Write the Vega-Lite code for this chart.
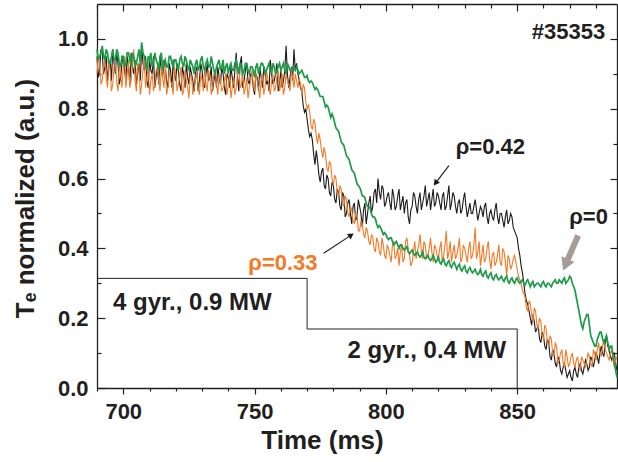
{
"$schema": "https://vega.github.io/schema/vega-lite/v6.json",
"width": 520, "height": 384,
"autosize": "none",
"padding": {"left": 97, "top": 4, "right": 1, "bottom": 74},
"background": "white",
"config": {"view": {"stroke": null}, "font": "Liberation Sans"},
"datasets": {
"tr": [
{"t":690,"k":0.95,"o":0.90,"g":0.97},{"t":691,"k":0.91,"o":0.93,"g":0.95},{"t":692,"k":0.96,"o":0.88,"g":0.98},{"t":693,"k":0.92,"o":0.94,"g":0.94},{"t":694,"k":0.88,"o":0.86,"g":0.96},
{"t":695,"k":0.94,"o":0.91,"g":0.93},{"t":696,"k":0.97,"o":0.87,"g":0.97},{"t":697,"k":0.90,"o":0.93,"g":0.94},{"t":698,"k":0.93,"o":0.85,"g":0.96},{"t":699,"k":0.89,"o":0.90,"g":0.92},
{"t":700,"k":0.95,"o":0.92,"g":0.95},{"t":701,"k":0.88,"o":0.86,"g":0.93},{"t":702,"k":0.92,"o":0.94,"g":0.96},{"t":703,"k":0.96,"o":0.88,"g":0.92},{"t":704,"k":0.90,"o":0.97,"g":0.95},
{"t":705,"k":0.87,"o":0.85,"g":0.93},{"t":706,"k":0.93,"o":0.92,"g":0.97},{"t":707,"k":0.98,"o":0.87,"g":0.99},{"t":708,"k":0.91,"o":0.95,"g":0.95},{"t":709,"k":0.88,"o":0.89,"g":0.91},
{"t":710,"k":0.94,"o":0.84,"g":0.94},{"t":711,"k":0.90,"o":0.90,"g":0.92},{"t":712,"k":0.86,"o":0.87,"g":0.96},{"t":713,"k":0.92,"o":0.92,"g":0.93},{"t":714,"k":0.95,"o":0.85,"g":0.95},
{"t":715,"k":0.89,"o":0.89,"g":0.91},{"t":716,"k":0.92,"o":0.93,"g":0.94},{"t":717,"k":0.86,"o":0.86,"g":0.92},{"t":718,"k":0.91,"o":0.88,"g":0.95},{"t":719,"k":0.94,"o":0.84,"g":0.92},
{"t":720,"k":0.88,"o":0.90,"g":0.94},{"t":721,"k":0.91,"o":0.87,"g":0.91},{"t":722,"k":0.85,"o":0.92,"g":0.95},{"t":723,"k":0.90,"o":0.85,"g":0.92},{"t":724,"k":0.93,"o":0.88,"g":0.94},
{"t":725,"k":0.87,"o":0.83,"g":0.91},{"t":726,"k":0.90,"o":0.89,"g":0.93},{"t":727,"k":0.85,"o":0.86,"g":0.90},{"t":728,"k":0.92,"o":0.91,"g":0.94},{"t":729,"k":0.88,"o":0.84,"g":0.92},
{"t":730,"k":0.91,"o":0.88,"g":0.95},{"t":731,"k":0.86,"o":0.92,"g":0.91},{"t":732,"k":0.93,"o":0.85,"g":0.94},{"t":733,"k":0.89,"o":0.89,"g":0.92},{"t":734,"k":0.85,"o":0.86,"g":0.93},
{"t":735,"k":0.90,"o":0.91,"g":0.90},{"t":736,"k":0.92,"o":0.84,"g":0.93},{"t":737,"k":0.87,"o":0.88,"g":0.91},{"t":738,"k":0.90,"o":0.86,"g":0.94},{"t":739,"k":0.84,"o":0.90,"g":0.92},
{"t":740,"k":0.89,"o":0.87,"g":0.90},{"t":741,"k":0.92,"o":0.83,"g":0.93},{"t":742,"k":0.86,"o":0.89,"g":0.91},{"t":743,"k":0.96,"o":0.86,"g":0.94},{"t":744,"k":0.85,"o":0.92,"g":0.90},
{"t":745,"k":0.95,"o":0.87,"g":0.92},{"t":746,"k":0.88,"o":0.84,"g":0.91},{"t":747,"k":0.93,"o":0.89,"g":0.93},{"t":748,"k":0.87,"o":0.86,"g":0.90},{"t":749,"k":0.90,"o":0.91,"g":0.92},
{"t":750,"k":0.84,"o":0.85,"g":0.89},{"t":751,"k":0.89,"o":0.88,"g":0.93},{"t":752,"k":0.92,"o":0.83,"g":0.91},{"t":753,"k":0.86,"o":0.90,"g":0.93},{"t":754,"k":0.91,"o":0.86,"g":0.90},
{"t":755,"k":0.88,"o":0.89,"g":0.92},{"t":756,"k":0.94,"o":0.84,"g":0.91},{"t":757,"k":0.87,"o":0.90,"g":0.93},{"t":758,"k":0.90,"o":0.86,"g":0.90},{"t":759,"k":0.85,"o":0.91,"g":0.92},
{"t":760,"k":0.91,"o":0.87,"g":0.91},{"t":761,"k":0.88,"o":0.84,"g":0.93},{"t":762,"k":0.98,"o":0.90,"g":0.90},{"t":763,"k":0.86,"o":0.87,"g":0.92},{"t":764,"k":0.92,"o":0.91,"g":0.91},
{"t":765,"k":0.97,"o":0.86,"g":0.92},{"t":766,"k":0.93,"o":0.88,"g":0.92},{"t":767,"k":0.88,"o":0.89,"g":0.90},{"t":768,"k":0.85,"o":0.84,"g":0.91},{"t":769,"k":0.79,"o":0.86,"g":0.89},
{"t":770,"k":0.77,"o":0.80,"g":0.895},{"t":771,"k":0.72,"o":0.79,"g":0.875},{"t":772,"k":0.71,"o":0.74,"g":0.875},{"t":773,"k":0.64,"o":0.76,"g":0.855},{"t":774,"k":0.65,"o":0.70,"g":0.855},
{"t":775,"k":0.59,"o":0.71,"g":0.835},{"t":776,"k":0.63,"o":0.66,"g":0.835},{"t":777,"k":0.57,"o":0.67,"g":0.805},{"t":778,"k":0.60,"o":0.62,"g":0.805},{"t":779,"k":0.55,"o":0.64,"g":0.775},
{"t":780,"k":0.58,"o":0.58,"g":0.775},{"t":781,"k":0.53,"o":0.60,"g":0.745},{"t":782,"k":0.56,"o":0.55,"g":0.735},{"t":783,"k":0.51,"o":0.57,"g":0.705},{"t":784,"k":0.55,"o":0.52,"g":0.695},
{"t":785,"k":0.50,"o":0.54,"g":0.665},{"t":786,"k":0.54,"o":0.49,"g":0.655},{"t":787,"k":0.47,"o":0.51,"g":0.625},{"t":788,"k":0.53,"o":0.47,"g":0.615},{"t":789,"k":0.49,"o":0.50,"g":0.585},
{"t":790,"k":0.52,"o":0.45,"g":0.575},{"t":791,"k":0.46,"o":0.47,"g":0.55},{"t":792,"k":0.53,"o":0.43,"g":0.545},{"t":793,"k":0.50,"o":0.45,"g":0.52},{"t":794,"k":0.55,"o":0.41,"g":0.515},
{"t":795,"k":0.52,"o":0.43,"g":0.49},{"t":796,"k":0.57,"o":0.39,"g":0.485},{"t":797,"k":0.60,"o":0.42,"g":0.46},{"t":798,"k":0.54,"o":0.38,"g":0.46},{"t":799,"k":0.57,"o":0.41,"g":0.44},
{"t":800,"k":0.53,"o":0.37,"g":0.44},{"t":801,"k":0.56,"o":0.40,"g":0.425},{"t":802,"k":0.51,"o":0.36,"g":0.43},{"t":803,"k":0.55,"o":0.42,"g":0.41},{"t":804,"k":0.52,"o":0.38,"g":0.42},
{"t":805,"k":0.57,"o":0.35,"g":0.40},{"t":806,"k":0.53,"o":0.41,"g":0.41},{"t":807,"k":0.50,"o":0.37,"g":0.395},{"t":808,"k":0.54,"o":0.43,"g":0.405},{"t":809,"k":0.47,"o":0.38,"g":0.385},
{"t":810,"k":0.52,"o":0.36,"g":0.395},{"t":811,"k":0.55,"o":0.42,"g":0.38},{"t":812,"k":0.50,"o":0.39,"g":0.39},{"t":813,"k":0.56,"o":0.44,"g":0.375},{"t":814,"k":0.53,"o":0.37,"g":0.39},
{"t":815,"k":0.58,"o":0.41,"g":0.37},{"t":816,"k":0.54,"o":0.38,"g":0.38},{"t":817,"k":0.51,"o":0.43,"g":0.365},{"t":818,"k":0.57,"o":0.36,"g":0.38},{"t":819,"k":0.53,"o":0.40,"g":0.36},
{"t":820,"k":0.55,"o":0.37,"g":0.375},{"t":821,"k":0.51,"o":0.42,"g":0.355},{"t":822,"k":0.56,"o":0.38,"g":0.37},{"t":823,"k":0.52,"o":0.45,"g":0.35},{"t":824,"k":0.58,"o":0.39,"g":0.365},
{"t":825,"k":0.53,"o":0.36,"g":0.345},{"t":826,"k":0.55,"o":0.41,"g":0.36},{"t":827,"k":0.50,"o":0.38,"g":0.34},{"t":828,"k":0.54,"o":0.43,"g":0.355},{"t":829,"k":0.51,"o":0.37,"g":0.335},
{"t":830,"k":0.56,"o":0.40,"g":0.35},{"t":831,"k":0.49,"o":0.36,"g":0.33},{"t":832,"k":0.53,"o":0.42,"g":0.345},{"t":833,"k":0.50,"o":0.38,"g":0.33},{"t":834,"k":0.54,"o":0.46,"g":0.34},
{"t":835,"k":0.48,"o":0.39,"g":0.325},{"t":836,"k":0.52,"o":0.35,"g":0.34},{"t":837,"k":0.49,"o":0.41,"g":0.32},{"t":838,"k":0.53,"o":0.37,"g":0.335},{"t":839,"k":0.47,"o":0.42,"g":0.315},
{"t":840,"k":0.51,"o":0.34,"g":0.33},{"t":841,"k":0.48,"o":0.39,"g":0.31},{"t":842,"k":0.53,"o":0.36,"g":0.325},{"t":843,"k":0.47,"o":0.41,"g":0.31},{"t":844,"k":0.50,"o":0.35,"g":0.32},
{"t":845,"k":0.46,"o":0.39,"g":0.305},{"t":846,"k":0.51,"o":0.32,"g":0.32},{"t":847,"k":0.48,"o":0.37,"g":0.30},{"t":848,"k":0.49,"o":0.35,"g":0.315},{"t":849,"k":0.45,"o":0.38,"g":0.30},
{"t":850,"k":0.43,"o":0.34,"g":0.315},{"t":851,"k":0.38,"o":0.31,"g":0.30},{"t":852,"k":0.33,"o":0.28,"g":0.31},{"t":853,"k":0.27,"o":0.26,"g":0.295},{"t":854,"k":0.24,"o":0.22,"g":0.31},
{"t":855,"k":0.20,"o":0.24,"g":0.29},{"t":856,"k":0.21,"o":0.19,"g":0.305},{"t":857,"k":0.16,"o":0.22,"g":0.295},{"t":858,"k":0.18,"o":0.17,"g":0.30},{"t":859,"k":0.13,"o":0.19,"g":0.29},
{"t":860,"k":0.15,"o":0.14,"g":0.305},{"t":861,"k":0.11,"o":0.17,"g":0.29},{"t":862,"k":0.13,"o":0.12,"g":0.30},{"t":863,"k":0.08,"o":0.14,"g":0.29},{"t":864,"k":0.10,"o":0.09,"g":0.305},
{"t":865,"k":0.06,"o":0.12,"g":0.30},{"t":866,"k":0.08,"o":0.08,"g":0.31},{"t":867,"k":0.04,"o":0.11,"g":0.30},{"t":868,"k":0.07,"o":0.06,"g":0.315},{"t":869,"k":0.03,"o":0.09,"g":0.305},
{"t":870,"k":0.05,"o":0.07,"g":0.32},{"t":871,"k":0.02,"o":0.10,"g":0.30},{"t":872,"k":0.06,"o":0.06,"g":0.28},{"t":873,"k":0.03,"o":0.09,"g":0.24},{"t":874,"k":0.07,"o":0.05,"g":0.20},
{"t":875,"k":0.04,"o":0.08,"g":0.17},{"t":876,"k":0.08,"o":0.06,"g":0.20},{"t":877,"k":0.05,"o":0.10,"g":0.21},{"t":878,"k":0.09,"o":0.07,"g":0.15},{"t":879,"k":0.06,"o":0.11,"g":0.13},
{"t":880,"k":0.10,"o":0.08,"g":0.12},{"t":881,"k":0.07,"o":0.13,"g":0.15},{"t":882,"k":0.12,"o":0.09,"g":0.16},{"t":883,"k":0.09,"o":0.14,"g":0.13},{"t":884,"k":0.15,"o":0.10,"g":0.15},
{"t":885,"k":0.11,"o":0.08,"g":0.11},{"t":886,"k":0.08,"o":0.11,"g":0.12},{"t":887,"k":0.10,"o":0.06,"g":0.07},{"t":888,"k":0.05,"o":0.09,"g":0.03},
{"t":690.5,"k":0.89,"o":0.95,"g":0.94},{"t":691.5,"k":0.97,"o":0.87,"g":0.96},{"t":692.5,"k":0.90,"o":0.92,"g":0.95},{"t":693.5,"k":0.95,"o":0.89,"g":0.97},{"t":694.5,"k":0.92,"o":0.94,"g":0.93},
{"t":695.5,"k":0.88,"o":0.85,"g":0.95},{"t":696.5,"k":0.93,"o":0.92,"g":0.94},{"t":697.5,"k":0.96,"o":0.88,"g":0.97},{"t":698.5,"k":0.87,"o":0.93,"g":0.93},{"t":699.5,"k":0.93,"o":0.86,"g":0.95},
{"t":700.5,"k":0.91,"o":0.95,"g":0.92},{"t":701.5,"k":0.95,"o":0.90,"g":0.96},{"t":702.5,"k":0.87,"o":0.86,"g":0.94},{"t":703.5,"k":0.92,"o":0.93,"g":0.96},{"t":704.5,"k":0.94,"o":0.88,"g":0.92},
{"t":705.5,"k":0.90,"o":0.93,"g":0.95},{"t":706.5,"k":0.88,"o":0.84,"g":0.93},{"t":707.5,"k":0.93,"o":0.91,"g":0.96},{"t":708.5,"k":0.95,"o":0.86,"g":0.93},{"t":709.5,"k":0.86,"o":0.92,"g":0.95},
{"t":710.5,"k":0.91,"o":0.88,"g":0.96},{"t":711.5,"k":0.95,"o":0.85,"g":0.93},{"t":712.5,"k":0.89,"o":0.91,"g":0.94},{"t":713.5,"k":0.87,"o":0.88,"g":0.91},{"t":714.5,"k":0.91,"o":0.92,"g":0.96},
{"t":715.5,"k":0.94,"o":0.86,"g":0.93},{"t":716.5,"k":0.88,"o":0.84,"g":0.92},{"t":717.5,"k":0.93,"o":0.91,"g":0.95},{"t":718.5,"k":0.86,"o":0.87,"g":0.93},{"t":719.5,"k":0.90,"o":0.92,"g":0.94},
{"t":720.5,"k":0.93,"o":0.85,"g":0.92},{"t":721.5,"k":0.87,"o":0.89,"g":0.94},{"t":722.5,"k":0.92,"o":0.84,"g":0.93},{"t":723.5,"k":0.86,"o":0.91,"g":0.95},{"t":724.5,"k":0.89,"o":0.86,"g":0.92},
{"t":725.5,"k":0.92,"o":0.90,"g":0.94},{"t":726.5,"k":0.88,"o":0.84,"g":0.92},{"t":727.5,"k":0.90,"o":0.88,"g":0.93},{"t":728.5,"k":0.85,"o":0.86,"g":0.91},{"t":729.5,"k":0.93,"o":0.90,"g":0.94},
{"t":730.5,"k":0.87,"o":0.85,"g":0.92},{"t":731.5,"k":0.90,"o":0.87,"g":0.93},{"t":732.5,"k":0.88,"o":0.91,"g":0.92},{"t":733.5,"k":0.92,"o":0.84,"g":0.95},{"t":734.5,"k":0.88,"o":0.90,"g":0.91},
{"t":735.5,"k":0.86,"o":0.87,"g":0.92},{"t":736.5,"k":0.89,"o":0.90,"g":0.94},{"t":737.5,"k":0.92,"o":0.85,"g":0.92},{"t":738.5,"k":0.86,"o":0.88,"g":0.90},{"t":739.5,"k":0.90,"o":0.84,"g":0.93},
{"t":740.5,"k":0.86,"o":0.90,"g":0.92},{"t":741.5,"k":0.89,"o":0.86,"g":0.91},{"t":742.5,"k":0.91,"o":0.84,"g":0.93},{"t":743.5,"k":0.89,"o":0.90,"g":0.92},{"t":744.5,"k":0.93,"o":0.86,"g":0.93},
{"t":745.5,"k":0.86,"o":0.90,"g":0.90},{"t":746.5,"k":0.91,"o":0.86,"g":0.93},{"t":747.5,"k":0.88,"o":0.83,"g":0.91},{"t":748.5,"k":0.90,"o":0.88,"g":0.92},{"t":749.5,"k":0.86,"o":0.87,"g":0.91},
{"t":750.5,"k":0.90,"o":0.90,"g":0.92},{"t":751.5,"k":0.85,"o":0.86,"g":0.90},{"t":752.5,"k":0.89,"o":0.88,"g":0.93},{"t":753.5,"k":0.92,"o":0.84,"g":0.92},{"t":754.5,"k":0.87,"o":0.91,"g":0.91},
{"t":755.5,"k":0.85,"o":0.86,"g":0.93},{"t":756.5,"k":0.90,"o":0.88,"g":0.90},{"t":757.5,"k":0.88,"o":0.85,"g":0.92},{"t":758.5,"k":0.93,"o":0.89,"g":0.91},{"t":759.5,"k":0.87,"o":0.85,"g":0.93},
{"t":760.5,"k":0.86,"o":0.90,"g":0.92},{"t":761.5,"k":0.91,"o":0.86,"g":0.91},{"t":762.5,"k":0.90,"o":0.88,"g":0.93},{"t":763.5,"k":0.89,"o":0.85,"g":0.91},{"t":764.5,"k":0.88,"o":0.89,"g":0.92},
{"t":765.5,"k":0.91,"o":0.90,"g":0.91},{"t":766.5,"k":0.90,"o":0.86,"g":0.91},{"t":767.5,"k":0.86,"o":0.87,"g":0.905},{"t":768.5,"k":0.81,"o":0.87,"g":0.90},{"t":769.5,"k":0.80,"o":0.82,"g":0.89},
{"t":770.5,"k":0.74,"o":0.81,"g":0.88},{"t":771.5,"k":0.73,"o":0.75,"g":0.88},{"t":772.5,"k":0.67,"o":0.77,"g":0.865},{"t":773.5,"k":0.68,"o":0.72,"g":0.86},{"t":774.5,"k":0.61,"o":0.73,"g":0.845},
{"t":775.5,"k":0.62,"o":0.68,"g":0.835},{"t":776.5,"k":0.58,"o":0.69,"g":0.82},{"t":777.5,"k":0.61,"o":0.63,"g":0.81},{"t":778.5,"k":0.56,"o":0.65,"g":0.79},{"t":779.5,"k":0.59,"o":0.60,"g":0.785},
{"t":780.5,"k":0.54,"o":0.61,"g":0.76},{"t":781.5,"k":0.57,"o":0.56,"g":0.74},{"t":782.5,"k":0.52,"o":0.58,"g":0.72},{"t":783.5,"k":0.56,"o":0.53,"g":0.70},{"t":784.5,"k":0.49,"o":0.55,"g":0.68},
{"t":785.5,"k":0.53,"o":0.50,"g":0.66},{"t":786.5,"k":0.50,"o":0.52,"g":0.64},{"t":787.5,"k":0.52,"o":0.48,"g":0.62},{"t":788.5,"k":0.48,"o":0.50,"g":0.60},{"t":789.5,"k":0.54,"o":0.45,"g":0.58},
{"t":790.5,"k":0.50,"o":0.48,"g":0.565},{"t":791.5,"k":0.51,"o":0.44,"g":0.55},{"t":792.5,"k":0.47,"o":0.46,"g":0.53},{"t":793.5,"k":0.53,"o":0.42,"g":0.52},{"t":794.5,"k":0.50,"o":0.44,"g":0.50},
{"t":795.5,"k":0.56,"o":0.40,"g":0.49},{"t":796.5,"k":0.53,"o":0.43,"g":0.47},{"t":797.5,"k":0.56,"o":0.39,"g":0.465},{"t":798.5,"k":0.58,"o":0.43,"g":0.45},{"t":799.5,"k":0.52,"o":0.38,"g":0.445},
{"t":800.5,"k":0.55,"o":0.41,"g":0.43},{"t":801.5,"k":0.53,"o":0.38,"g":0.43},{"t":802.5,"k":0.57,"o":0.41,"g":0.42},{"t":803.5,"k":0.51,"o":0.37,"g":0.415},{"t":804.5,"k":0.55,"o":0.40,"g":0.41},
{"t":805.5,"k":0.51,"o":0.39,"g":0.41},{"t":806.5,"k":0.55,"o":0.36,"g":0.40},{"t":807.5,"k":0.53,"o":0.42,"g":0.40},{"t":808.5,"k":0.49,"o":0.40,"g":0.39},{"t":809.5,"k":0.51,"o":0.35,"g":0.39},
{"t":810.5,"k":0.56,"o":0.39,"g":0.385},{"t":811.5,"k":0.52,"o":0.37,"g":0.385},{"t":812.5,"k":0.54,"o":0.41,"g":0.38},{"t":813.5,"k":0.51,"o":0.39,"g":0.38},{"t":814.5,"k":0.55,"o":0.42,"g":0.375},
{"t":815.5,"k":0.52,"o":0.37,"g":0.375},{"t":816.5,"k":0.56,"o":0.40,"g":0.37},{"t":817.5,"k":0.54,"o":0.39,"g":0.37},{"t":818.5,"k":0.52,"o":0.41,"g":0.37},{"t":819.5,"k":0.56,"o":0.38,"g":0.365},
{"t":820.5,"k":0.53,"o":0.40,"g":0.36},{"t":821.5,"k":0.55,"o":0.36,"g":0.365},{"t":822.5,"k":0.51,"o":0.41,"g":0.355},{"t":823.5,"k":0.55,"o":0.37,"g":0.36},{"t":824.5,"k":0.51,"o":0.42,"g":0.35},
{"t":825.5,"k":0.56,"o":0.39,"g":0.355},{"t":826.5,"k":0.52,"o":0.37,"g":0.35},{"t":827.5,"k":0.53,"o":0.40,"g":0.35},{"t":828.5,"k":0.50,"o":0.36,"g":0.34},{"t":829.5,"k":0.54,"o":0.41,"g":0.345},
{"t":830.5,"k":0.52,"o":0.38,"g":0.335},{"t":831.5,"k":0.51,"o":0.40,"g":0.34},{"t":832.5,"k":0.50,"o":0.37,"g":0.335},{"t":833.5,"k":0.52,"o":0.41,"g":0.335},{"t":834.5,"k":0.51,"o":0.37,"g":0.33},
{"t":835.5,"k":0.50,"o":0.42,"g":0.33},{"t":836.5,"k":0.51,"o":0.38,"g":0.325},{"t":837.5,"k":0.52,"o":0.36,"g":0.33},{"t":838.5,"k":0.49,"o":0.40,"g":0.32},{"t":839.5,"k":0.50,"o":0.37,"g":0.325},
{"t":840.5,"k":0.49,"o":0.38,"g":0.315},{"t":841.5,"k":0.51,"o":0.35,"g":0.32},{"t":842.5,"k":0.49,"o":0.38,"g":0.315},{"t":843.5,"k":0.50,"o":0.36,"g":0.315},{"t":844.5,"k":0.48,"o":0.40,"g":0.31},
{"t":845.5,"k":0.49,"o":0.36,"g":0.315},{"t":846.5,"k":0.47,"o":0.38,"g":0.305},{"t":847.5,"k":0.50,"o":0.34,"g":0.31},{"t":848.5,"k":0.46,"o":0.37,"g":0.305},{"t":849.5,"k":0.44,"o":0.36,"g":0.31},
{"t":850.5,"k":0.40,"o":0.32,"g":0.305},{"t":851.5,"k":0.35,"o":0.30,"g":0.305},{"t":852.5,"k":0.30,"o":0.27,"g":0.30},{"t":853.5,"k":0.25,"o":0.23,"g":0.305},{"t":854.5,"k":0.22,"o":0.25,"g":0.30},
{"t":855.5,"k":0.18,"o":0.21,"g":0.30},{"t":856.5,"k":0.19,"o":0.23,"g":0.29},{"t":857.5,"k":0.17,"o":0.18,"g":0.30},{"t":858.5,"k":0.14,"o":0.20,"g":0.295},{"t":859.5,"k":0.16,"o":0.15,"g":0.30},
{"t":860.5,"k":0.12,"o":0.18,"g":0.295},{"t":861.5,"k":0.14,"o":0.13,"g":0.30},{"t":862.5,"k":0.09,"o":0.15,"g":0.295},{"t":863.5,"k":0.11,"o":0.10,"g":0.30},{"t":864.5,"k":0.07,"o":0.13,"g":0.31},
{"t":865.5,"k":0.09,"o":0.07,"g":0.30},{"t":866.5,"k":0.05,"o":0.10,"g":0.305},{"t":867.5,"k":0.06,"o":0.07,"g":0.31},{"t":868.5,"k":0.05,"o":0.11,"g":0.30},{"t":869.5,"k":0.04,"o":0.06,"g":0.31},
{"t":870.5,"k":0.03,"o":0.09,"g":0.315},{"t":871.5,"k":0.05,"o":0.07,"g":0.29},{"t":872.5,"k":0.04,"o":0.08,"g":0.26},{"t":873.5,"k":0.06,"o":0.06,"g":0.22},{"t":874.5,"k":0.05,"o":0.09,"g":0.18},
{"t":875.5,"k":0.06,"o":0.07,"g":0.19},{"t":876.5,"k":0.07,"o":0.08,"g":0.21},{"t":877.5,"k":0.06,"o":0.09,"g":0.18},{"t":878.5,"k":0.08,"o":0.06,"g":0.14},{"t":879.5,"k":0.08,"o":0.10,"g":0.12},
{"t":880.5,"k":0.09,"o":0.11,"g":0.14},{"t":881.5,"k":0.10,"o":0.10,"g":0.16},{"t":882.5,"k":0.10,"o":0.12,"g":0.14},{"t":883.5,"k":0.13,"o":0.11,"g":0.14},{"t":884.5,"k":0.12,"o":0.09,"g":0.13},
{"t":885.5,"k":0.09,"o":0.10,"g":0.12},{"t":886.5,"k":0.10,"o":0.08,"g":0.09},{"t":887.5,"k":0.07,"o":0.08,"g":0.05}
],
"step": [{"t":690,"v":0.314},{"t":770,"v":0.169},{"t":850,"v":0}],
"arr": [{"a":1,"t":824,"v":0.637},{"a":1,"t":818.9,"v":0.587},{"a":2,"t":776.3,"v":0.386},{"a":2,"t":786.8,"v":0.438}],
"garr": [{"t":873.2,"v":0.437},{"t":868.4,"v":0.353}],
"txt": [{"s":"ρ=0.42","t":826.6,"v":0.669},{"s":"ρ=0","t":869.8,"v":0.471}],
"gyr": [{"s":"4 gyr., 0.9 MW","t":696.1,"v":0.223},{"s":"2 gyr., 0.4 MW","t":785.4,"v":0.086}]
},
"resolve": {"axis": {"x": "independent", "y": "independent"}},
"layer": [
{"data": {"name": "tr"},
 "mark": {"type": "line", "color": "#1a1a1a", "strokeWidth": 1.1},
 "encoding": {
  "x": {"field": "t", "type": "quantitative", "scale": {"domain": [690, 888], "nice": false, "zero": false},
   "axis": {"orient": "bottom", "title": "Time (ms)", "values": [690,700,710,720,730,740,750,760,770,780,790,800,810,820,830,840,850,860,870,880],
    "labelExpr": "datum.value % 50 === 0 ? datum.label : ''", "labelFontSize": 22, "labelFontWeight": "bold", "labelColor": "#231f20",
    "labelPadding": 7, "labelFlush": false, "labelOverlap": false,
    "tickSize": {"condition": {"test": "datum.value % 50 === 0", "value": 6}, "value": 3},
    "tickColor": "#231f20", "tickWidth": 1.2, "domainColor": "#231f20", "domainWidth": 1.3, "grid": false,
    "titleFontSize": 26, "titleFontWeight": "bold", "titleColor": "#231f20", "titleX": 225, "titleY": 60, "titleBaseline": "alphabetic", "titleAlign": "center"}},
  "y": {"field": "k", "type": "quantitative", "scale": {"domain": [0, 1.1], "nice": false},
   "axis": {"orient": "left", "title": "Tₑ normalized (a.u.)", "values": [0,0.1,0.2,0.3,0.4,0.5,0.6,0.7,0.8,0.9,1.0], "format": ".1f",
    "labelExpr": "round(datum.value*10) % 2 === 0 ? datum.label : ''", "labelFontSize": 22, "labelFontWeight": "bold", "labelColor": "#231f20",
    "labelPadding": 17, "labelFlush": false, "labelOverlap": false, "labelBaseline": "middle",
    "tickSize": {"condition": {"test": "round(datum.value*10) % 2 === 0", "value": -8}, "value": -4},
    "tickColor": "#231f20", "tickWidth": 1.2, "domainColor": "#231f20", "domainWidth": 1.3, "grid": false,
    "titleFontSize": 26, "titleFontWeight": "bold", "titleColor": "#231f20", "titleX": -64, "titleY": 194, "titleAngle": 270, "titleBaseline": "alphabetic", "titleAlign": "center"}}
 }},
{"data": {"name": "tr"},
 "mark": {"type": "line", "color": "#f47a26", "strokeWidth": 1.1},
 "encoding": {"x": {"field": "t", "type": "quantitative", "axis": null}, "y": {"field": "o", "type": "quantitative", "axis": null}}},
{"data": {"name": "tr"},
 "mark": {"type": "line", "color": "#1f9a48", "strokeWidth": 1.7},
 "encoding": {"x": {"field": "t", "type": "quantitative", "axis": null}, "y": {"field": "g", "type": "quantitative", "axis": null}}},
{"data": {"name": "step"},
 "mark": {"type": "line", "color": "#231f20", "strokeWidth": 1, "interpolate": "step-after"},
 "encoding": {
  "x": {"field": "t", "type": "quantitative",
   "axis": {"orient": "top", "title": null, "labels": false, "values": [690,700,710,720,730,740,750,760,770,780,790,800,810,820,830,840,850,860,870,880],
    "tickSize": {"condition": {"test": "datum.value % 50 === 0", "value": -7}, "value": -4},
    "tickColor": "#231f20", "tickWidth": 1.2, "domainColor": "#231f20", "domainWidth": 1.3, "grid": false}},
  "y": {"field": "v", "type": "quantitative",
   "axis": {"orient": "right", "title": null, "labels": false, "values": [0,0.1,0.2,0.3,0.4,0.5,0.6,0.7,0.8,0.9,1.0],
    "tickSize": {"condition": {"test": "round(datum.value*10) % 2 === 0", "value": -7}, "value": -4},
    "tickColor": "#231f20", "tickWidth": 1.2, "domainColor": "#231f20", "domainWidth": 1.3, "grid": false}}
 }},
{"data": {"name": "arr"},
 "mark": {"type": "line", "color": "#1a1a1a", "strokeWidth": 1.1},
 "encoding": {"x": {"field": "t", "type": "quantitative", "axis": null}, "y": {"field": "v", "type": "quantitative", "axis": null}, "detail": {"field": "a"}}},
{"data": {"values": [{"t":818.9,"v":0.587}]},
 "mark": {"type": "point", "shape": "triangle-up", "filled": true, "size": 45, "angle": 217, "color": "#1a1a1a", "opacity": 1},
 "encoding": {"x": {"field": "t", "type": "quantitative", "axis": null}, "y": {"field": "v", "type": "quantitative", "axis": null}}},
{"data": {"values": [{"t":786.8,"v":0.438}]},
 "mark": {"type": "point", "shape": "triangle-up", "filled": true, "size": 45, "angle": 56, "color": "#1a1a1a", "opacity": 1},
 "encoding": {"x": {"field": "t", "type": "quantitative", "axis": null}, "y": {"field": "v", "type": "quantitative", "axis": null}}},
{"data": {"name": "garr"},
 "mark": {"type": "line", "color": "#a59c97", "strokeWidth": 6},
 "encoding": {"x": {"field": "t", "type": "quantitative", "axis": null}, "y": {"field": "v", "type": "quantitative", "axis": null}}},
{"data": {"values": [{"t":868.4,"v":0.353}]},
 "mark": {"type": "point", "shape": "triangle-up", "filled": true, "size": 200, "angle": 203, "color": "#a59c97", "opacity": 1},
 "encoding": {"x": {"field": "t", "type": "quantitative", "axis": null}, "y": {"field": "v", "type": "quantitative", "axis": null}}},
{"data": {"name": "txt"},
 "mark": {"type": "text", "align": "left", "baseline": "alphabetic", "fontSize": 22, "fontWeight": "bold", "color": "#231f20"},
 "encoding": {"x": {"field": "t", "type": "quantitative", "axis": null}, "y": {"field": "v", "type": "quantitative", "axis": null}, "text": {"field": "s"}}},
{"data": {"name": "gyr"},
 "mark": {"type": "text", "align": "left", "baseline": "alphabetic", "fontSize": 24, "fontWeight": "bold", "color": "#231f20"},
 "encoding": {"x": {"field": "t", "type": "quantitative", "axis": null}, "y": {"field": "v", "type": "quantitative", "axis": null}, "text": {"field": "s"}}},
{"data": {"values": [{"s":"ρ=0.33","t":747.6,"v":0.337}]},
 "mark": {"type": "text", "align": "left", "baseline": "alphabetic", "fontSize": 22, "fontWeight": "bold", "color": "#f47a26"},
 "encoding": {"x": {"field": "t", "type": "quantitative", "axis": null}, "y": {"field": "v", "type": "quantitative", "axis": null}, "text": {"field": "s"}}},
{"data": {"values": [{"s":"#35353","t":883.5,"v":1.0}]},
 "mark": {"type": "text", "align": "right", "baseline": "alphabetic", "fontSize": 22, "fontWeight": "bold", "color": "#231f20"},
 "encoding": {"x": {"field": "t", "type": "quantitative", "axis": null}, "y": {"field": "v", "type": "quantitative", "axis": null}, "text": {"field": "s"}}}
]
}
